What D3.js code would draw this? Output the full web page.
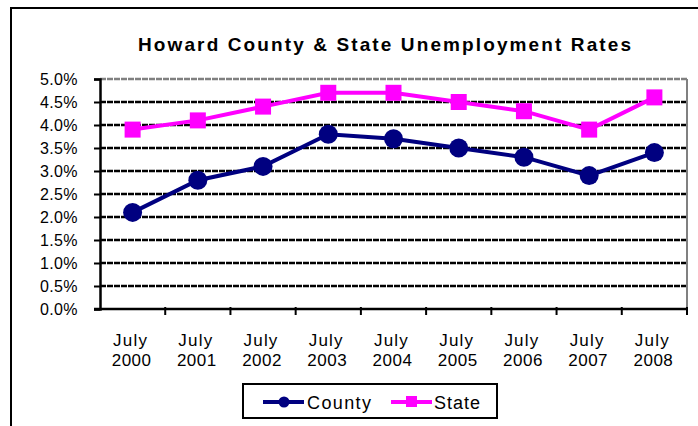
<!DOCTYPE html>
<html>
<head>
<meta charset="utf-8">
<script src="https://cdn.jsdelivr.net/npm/d3@7"></script>
<style>
  body { margin: 0; background: #fff; }
  svg { display: block; font-family: "Liberation Sans", Arial, sans-serif; }
</style>
</head>
<body>
<div id="chart"></div>
<script>
// data
var years = ['2000', '2001', '2002', '2003', '2004', '2005', '2006', '2007', '2008'];
var county = [2.1, 2.8, 3.1, 3.8, 3.7, 3.5, 3.3, 2.9, 3.4];
var state = [3.9, 4.1, 4.4, 4.7, 4.7, 4.5, 4.3, 3.9, 4.6];
var yTicks = [0, 0.5, 1, 1.5, 2, 2.5, 3, 3.5, 4, 4.5, 5];

var width = 698, height = 426;
var plot = {left: 100, right: 687, top: 79, bottom: 309};

var svg = d3.select('#chart').append('svg')
    .attr('width', width)
    .attr('height', height);

// outer frame (only top + left show)
svg.append('path')
    .attr('d', 'M11,426 V8 H698')
    .attr('fill', 'none')
    .attr('stroke', '#000')
    .attr('stroke-width', 2);

svg.append('text')
    .attr('x', 138)
    .attr('y', 51)
    .attr('font-size', 19)
    .attr('font-weight', 'bold')
    .attr('textLength', 493)
    .attr('lengthAdjust', 'spacing')
    .text('Howard County & State Unemployment Rates');

var x = d3.scaleBand()
    .domain(years)
    .range([plot.left, plot.right]);

var y = d3.scaleLinear()
    .domain([0, 5])
    .range([plot.bottom, plot.top]);

// gridlines
svg.append('g').selectAll('line')
    .data(yTicks.filter(function (d) { return d > 0; }))
    .enter().append('line')
    .attr('x1', plot.left)
    .attr('x2', plot.right)
    .attr('y1', function (d) { return y(d); })
    .attr('y2', function (d) { return y(d); })
    .attr('stroke', function (d) { return d === 5 ? '#808080' : '#000'; })
    .attr('stroke-width', 2.5)
    .attr('stroke-dasharray', '6,1');

// right border of plot area
svg.append('line')
    .attr('x1', plot.right).attr('x2', plot.right)
    .attr('y1', plot.top).attr('y2', plot.bottom)
    .attr('stroke', '#808080')
    .attr('stroke-width', 2);

// y axis
var yAxis = svg.append('g')
    .attr('transform', 'translate(' + plot.left + ',0)')
    .call(d3.axisLeft(y)
        .tickValues(yTicks)
        .tickSize(6)
        .tickPadding(16)
        .tickFormat(function (d) { return d.toFixed(1) + '%'; }));
yAxis.attr('font-family', null).attr('font-size', null);
yAxis.select('.domain').attr('stroke', '#000').attr('stroke-width', 2.5);
yAxis.selectAll('.tick line').attr('stroke', '#000').attr('stroke-width', 2);
yAxis.selectAll('.tick text')
    .attr('font-size', 16)
    .attr('letter-spacing', 0.4)
    .attr('fill', '#000');

// x axis, ticks on category boundaries
var xAxis = svg.append('g');
xAxis.append('line')
    .attr('x1', plot.left - 6).attr('x2', plot.right)
    .attr('y1', plot.bottom).attr('y2', plot.bottom)
    .attr('stroke', '#000')
    .attr('stroke-width', 2.5);
xAxis.selectAll('.bound')
    .data(years)
    .enter().append('line')
    .attr('x1', function (d) { return x(d) + x.bandwidth(); })
    .attr('x2', function (d) { return x(d) + x.bandwidth(); })
    .attr('y1', plot.bottom - 2)
    .attr('y2', plot.bottom + 6)
    .attr('stroke', '#000')
    .attr('stroke-width', 2);
xAxis.selectAll('.july')
    .data(years)
    .enter().append('text')
    .attr('x', function (d) { return x(d) + x.bandwidth() / 2 - 2; })
    .attr('y', 346)
    .attr('text-anchor', 'middle')
    .attr('font-size', 17)
    .attr('letter-spacing', 1.2)
    .text('July');
xAxis.selectAll('.yr')
    .data(years)
    .enter().append('text')
    .attr('x', function (d) { return x(d) + x.bandwidth() / 2 - 1; })
    .attr('y', 366)
    .attr('text-anchor', 'middle')
    .attr('font-size', 17)
    .attr('letter-spacing', 0.5)
    .text(function (d) { return d; });

var line = d3.line()
    .x(function (d, i) { return x(years[i]) + x.bandwidth() / 2; })
    .y(function (d) { return y(d); });

// State
svg.append('path')
    .datum(state)
    .attr('fill', 'none')
    .attr('stroke', '#ff00ff')
    .attr('stroke-width', 4)
    .attr('d', line);
svg.append('g').selectAll('rect')
    .data(state)
    .enter().append('rect')
    .attr('x', function (d, i) { return x(years[i]) + x.bandwidth() / 2 - 8; })
    .attr('y', function (d) { return y(d) - 8; })
    .attr('width', 16)
    .attr('height', 16)
    .attr('fill', '#ff00ff');

// County
svg.append('path')
    .datum(county)
    .attr('fill', 'none')
    .attr('stroke', '#000080')
    .attr('stroke-width', 4)
    .attr('d', line);
svg.append('g').selectAll('circle')
    .data(county)
    .enter().append('circle')
    .attr('cx', function (d, i) { return x(years[i]) + x.bandwidth() / 2; })
    .attr('cy', function (d) { return y(d); })
    .attr('r', 9.5)
    .attr('fill', '#000080');

// legend
var legend = svg.append('g');
legend.append('rect')
    .attr('x', 243).attr('y', 384)
    .attr('width', 254).attr('height', 34)
    .attr('fill', '#fff')
    .attr('stroke', '#000')
    .attr('stroke-width', 2);
legend.append('line')
    .attr('x1', 263).attr('x2', 304).attr('y1', 402).attr('y2', 402)
    .attr('stroke', '#000080').attr('stroke-width', 4);
legend.append('circle')
    .attr('cx', 284).attr('cy', 402).attr('r', 5.5)
    .attr('fill', '#000080');
legend.append('text')
    .attr('x', 307).attr('y', 409)
    .attr('font-size', 18)
    .attr('textLength', 64)
    .attr('lengthAdjust', 'spacing')
    .text('County');
legend.append('line')
    .attr('x1', 391).attr('x2', 432).attr('y1', 402).attr('y2', 402)
    .attr('stroke', '#ff00ff').attr('stroke-width', 4);
legend.append('rect')
    .attr('x', 406).attr('y', 396).attr('width', 11).attr('height', 11)
    .attr('fill', '#ff00ff');
legend.append('text')
    .attr('x', 434).attr('y', 409)
    .attr('font-size', 18)
    .attr('textLength', 46)
    .attr('lengthAdjust', 'spacing')
    .text('State');
</script>
</body>
</html>
